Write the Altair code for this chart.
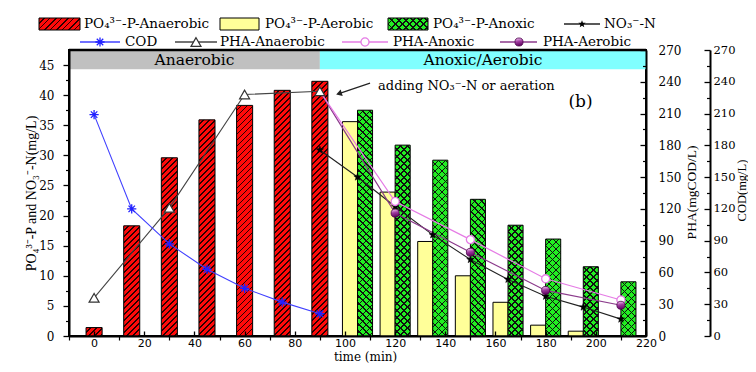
import altair as alt
import numpy as np
import pandas as pd

# ---------------- data ----------------
t_anaerobic = [0, 15, 30, 45, 60, 75, 90]
po4_anaerobic = [1.4, 18.3, 29.6, 35.9, 38.3, 40.8, 42.3]

t_post = [105, 120, 135, 150, 165, 180, 195, 210]
po4_aerobic = [35.6, 23.9, 15.7, 10.0, 5.6, 1.8, 0.8, 0.0]
po4_anoxic = [37.5, 31.7, 29.2, 22.7, 18.4, 16.1, 11.5, 9.0]

t_no3 = [90, 105, 120, 135, 150, 165, 180, 195, 210]
no3_n = [30.9, 26.4, 21.5, 16.8, 12.7, 9.4, 6.6, 4.8, 2.8]

t_cod = [0, 15, 30, 45, 60, 75, 90]
cod = [209, 120, 87, 63, 45, 32, 21]

t_pha_anaerobic = [0, 30, 60, 90]
pha_anaerobic = [36, 121, 228, 231]

t_pha_post = [90, 120, 150, 180, 210]
pha_anoxic = [231, 127, 91, 54, 34]
pha_aerobic = [231, 116, 79, 43, 29]

phase_labels = ["Anaerobic", "Anoxic/Aerobic"]
phase_start = [-10, 90]
phase_end = [90, 220]

x_ticks = list(range(0, 221, 20))
x_minor = list(range(-10, 220, 20))
left_ticks = list(range(0, 46, 5))
left_minor = [2.5 + 5 * k for k in range(9)]
right_ticks = list(range(0, 271, 30))
right_minor = list(range(15, 270, 30))

annotation_text = "adding NO₃⁻-N or aeration"
panel_label = "(b)"

legend_row1 = ["PO₄³⁻-P-Anaerobic", "PO₄³⁻-P-Aerobic", "PO₄³⁻-P-Anoxic", "NO₃⁻-N"]
legend_row2 = ["COD", "PHA-Anaerobic", "PHA-Anoxic", "PHA-Aerobic"]

# ---------------- layout / style ----------------
W, H = 577, 286
X_DOM = [-10, 220]
YL_DOM = [0, 47.5]
YR_DOM = [0, 270]
PXX = W / (X_DOM[1] - X_DOM[0])
PXYL = H / YL_DOM[1]
RED_HALF = 3.2
PAIR_W = 6.0
BAND_LO = 44.3
COD_OFF = 64

RED = "#FF0a0a"
RED_LINE = "#2a0000"
YELLOW = "#FFFF99"
GREEN = "#22EE22"
SERIF_H = "DejaVu Serif"
SERIF_V = "Liberation Serif"
SANS = "DejaVu Sans"

C_COD = "#4040FF"
C_NO3 = "#222222"
C_PANA = "#444444"
C_PANOX = "#E57BE5"
C_PAER = "#8B3A8B"

ASTERISK = "M-1,0L1,0M0,-1L0,1M-0.7,-0.7L0.7,0.7M-0.7,0.7L0.7,-0.7"


def star_path(r_out=1.0, r_in=0.42):
    pts = []
    for k in range(10):
        r = r_out if k % 2 == 0 else r_in
        a = np.deg2rad(-90 + 36 * k)
        pts.append((r * np.cos(a), r * np.sin(a)))
    return "M" + "L".join(f"{x:.3f},{y:.3f}" for x, y in pts) + "Z"


STAR = star_path()

BALL = {"gradient": "linear", "x1": 0.3, "y1": 0.0001, "x2": 0.5, "y2": 1,
        "stops": [{"offset": 0, "color": "#F4C8F4"},
                  {"offset": 0.45, "color": "#A03CA0"},
                  {"offset": 1, "color": "#5A005A"}]}


def hatch(w, h, bg, fg, period, lw, kind):
    L = w + h
    s = L / (w * w + h * h)
    if kind == "/":
        x1, y1, x2, y2 = 0.0, 0.0, s * w, s * h
    else:
        x1, y1, x2, y2 = 0.0, 1.0, s * w, 1.0 - s * h
    dt = period / L
    lt = lw * np.sqrt(2) / L
    stops = []
    k = 0
    while k * dt < 1:
        a = k * dt
        b = min(a + dt - lt, 1.0)
        c = min(a + dt, 1.0)
        stops += [(a, bg), (b, bg), (b, fg), (c, fg)]
        k += 1
    return {"gradient": "linear", "x1": x1, "y1": y1, "x2": round(x2, 6), "y2": round(y2, 6),
            "stops": [{"offset": round(float(o), 6), "color": col} for o, col in stops]}


def X(field, axis=None):
    return alt.X(field, type="quantitative",
                 scale=alt.Scale(domain=X_DOM, nice=False, zero=False), axis=axis)


def YL(field, axis=None):
    return alt.Y(field, type="quantitative",
                 scale=alt.Scale(domain=YL_DOM, nice=False, zero=False), axis=axis)


def YR(field, axis=None):
    return alt.Y(field, type="quantitative",
                 scale=alt.Scale(domain=YR_DOM, nice=False, zero=False), axis=axis)


one = pd.DataFrame({"d": [0]})
layers = []

# ---------------- phase bands ----------------
band_df = pd.DataFrame({"label": phase_labels, "x0": phase_start, "x1": phase_end})
band_df["y0"] = BAND_LO
band_df["y1"] = YL_DOM[1]
band_df["xc"] = (band_df["x0"] + band_df["x1"]) / 2
band_df["yc"] = (BAND_LO + YL_DOM[1]) / 2
layers.append(
    alt.Chart(band_df).mark_rect().encode(
        x=X("x0"), x2="x1", y=YL("y0"), y2="y1",
        color=alt.Color("label:N", scale=alt.Scale(domain=phase_labels, range=["#C0C0C0", "#80FFFF"]),
                        legend=None)))
layers.append(
    alt.Chart(band_df).mark_text(font=SERIF_H, fontSize=15.5, color="black").encode(
        x=X("xc"), y=YL("yc"), text="label:N"))
layers.append(alt.Chart(one).mark_rule(color="black", strokeWidth=2.5).encode(
    x=alt.value(0), x2=alt.value(W), y=alt.value(0)))

# ---------------- bars ----------------
red_df = pd.DataFrame({"t": t_anaerobic, "v": po4_anaerobic})
red_df["x0"] = red_df["t"] - RED_HALF
red_df["x1"] = red_df["t"] + RED_HALF
red_df["base"] = 0.0
for i in range(len(red_df)):
    g = hatch(2 * RED_HALF * PXX, red_df["v"].iloc[i] * PXYL, RED, RED_LINE, 6.0, 1.3, "/")
    layers.append(alt.Chart(red_df.iloc[[i]]).mark_rect(fill=g, stroke="black", strokeWidth=1).encode(
        x=X("x0"), x2="x1", y=YL("v"), y2="base"))

yel_df = pd.DataFrame({"t": t_post, "v": po4_aerobic})
yel_df = yel_df[yel_df["v"] > 0].copy()
yel_df["x0"] = yel_df["t"] - PAIR_W
yel_df["x1"] = yel_df["t"]
yel_df["base"] = 0.0
layers.append(alt.Chart(yel_df).mark_rect(fill=YELLOW, stroke="black", strokeWidth=1).encode(
    x=X("x0"), x2="x1", y=YL("v"), y2="base"))

grn_df = pd.DataFrame({"t": t_post, "v": po4_anoxic})
grn_df["x0"] = grn_df["t"]
grn_df["x1"] = grn_df["t"] + PAIR_W
grn_df["base"] = 0.0
for i in range(len(grn_df)):
    h = grn_df["v"].iloc[i] * PXYL
    g1 = hatch(PAIR_W * PXX, h, GREEN, "#101010", 7.0, 1.1, "\\")
    g2 = hatch(PAIR_W * PXX, h, "rgba(0,0,0,0)", "#101010", 7.0, 1.1, "/")
    sub = grn_df.iloc[[i]]
    layers.append(alt.Chart(sub).mark_rect(fill=g1, stroke="black", strokeWidth=1).encode(
        x=X("x0"), x2="x1", y=YL("v"), y2="base"))
    layers.append(alt.Chart(sub).mark_rect(fill=g2).encode(
        x=X("x0"), x2="x1", y=YL("v"), y2="base"))

# ---------------- lines ----------------
cod_df = pd.DataFrame({"t": t_cod, "v": cod})
no3_df = pd.DataFrame({"t": t_no3, "v": no3_n})
pana_df = pd.DataFrame({"t": t_pha_anaerobic, "v": pha_anaerobic})
panox_df = pd.DataFrame({"t": t_pha_post, "v": pha_anoxic})
paer_df = pd.DataFrame({"t": t_pha_post, "v": pha_aerobic})

layers.append(alt.Chart(pana_df).mark_line(color=C_PANA, strokeWidth=1.1).encode(x=X("t"), y=YR("v")))
layers.append(alt.Chart(cod_df).mark_line(color=C_COD, strokeWidth=1.1).encode(x=X("t"), y=YR("v")))
layers.append(alt.Chart(no3_df).mark_line(color=C_NO3, strokeWidth=1.1).encode(x=X("t"), y=YL("v")))
layers.append(alt.Chart(paer_df).mark_line(color=C_PAER, strokeWidth=1.2).encode(x=X("t"), y=YR("v")))
layers.append(alt.Chart(panox_df).mark_line(color=C_PANOX, strokeWidth=1.2).encode(x=X("t"), y=YR("v")))

# markers
layers.append(alt.Chart(cod_df).mark_point(shape=ASTERISK, filled=False, stroke="#2020FF", strokeWidth=1.3,
                                           size=85, opacity=1).encode(x=X("t"), y=YR("v")))
layers.append(alt.Chart(no3_df).mark_point(shape=STAR, filled=True, fill="black", stroke="black",
                                           strokeWidth=0.5, size=60, opacity=1).encode(x=X("t"), y=YL("v")))
layers.append(alt.Chart(panox_df[panox_df["t"] > 90]).mark_point(
    shape="circle", filled=True, fill="white", stroke=C_PANOX, strokeWidth=1.3, size=65, opacity=1).encode(
    x=X("t"), y=YR("v")))
layers.append(alt.Chart(paer_df[paer_df["t"] > 90]).mark_point(
    shape="circle", filled=True, fill=BALL, stroke="#4a004a", strokeWidth=0.8, size=65, opacity=1).encode(
    x=X("t"), y=YR("v")))
layers.append(alt.Chart(pana_df).mark_point(shape="triangle-up", filled=True, fill="white", stroke="#333333",
                                            strokeWidth=1.2, size=100, opacity=1).encode(x=X("t"), y=YR("v")))

# ---------------- annotation ----------------
ann_df = pd.DataFrame({"x": [110.0], "y": [42.0], "x2": [97.6], "y2": [40.25]})
layers.append(alt.Chart(ann_df).mark_rule(color="#222222", strokeWidth=1.2).encode(
    x=X("x"), x2="x2", y=YL("y"), y2="y2"))
layers.append(alt.Chart(ann_df).mark_point(shape="triangle-up", angle=252, filled=True, fill="#222222",
                                           size=45, opacity=1).encode(x=X("x2"), y=YL("y2")))
txt_df = pd.DataFrame({"x": [113.2], "y": [41.5], "label": [annotation_text]})
layers.append(alt.Chart(txt_df).mark_text(font=SERIF_H, fontSize=13, align="left", baseline="middle",
                                          color="black").encode(x=X("x"), y=YL("y"), text="label:N"))
pl_df = pd.DataFrame({"x": [193.9], "y": [38.8], "label": [panel_label]})
layers.append(alt.Chart(pl_df).mark_text(font=SERIF_H, fontSize=17, align="center", baseline="middle",
                                         color="black").encode(x=X("x"), y=YL("y"), text="label:N"))

# ---------------- legend (manual, two rows above the plot) ----------------
R1, R2 = -26, -8
LEG_FS = 13.5


def leg_text(label, px, py):
    return alt.Chart(one).mark_text(font=SERIF_H, fontSize=LEG_FS, align="left", baseline="middle",
                                    color="black").encode(x=alt.value(px), y=alt.value(py), text=alt.value(label))


def leg_box(fill, px0, px1, py):
    return alt.Chart(one).mark_rect(fill=fill, stroke="black", strokeWidth=1).encode(
        x=alt.value(px0), x2=alt.value(px1), y=alt.value(py - 6), y2=alt.value(py + 6))


def leg_line(color, px0, px1, py):
    return alt.Chart(one).mark_rule(color=color, strokeWidth=1.3).encode(
        x=alt.value(px0), x2=alt.value(px1), y=alt.value(py))


layers.append(leg_box(hatch(41, 12, RED, RED_LINE, 6.0, 1.3, "/"), -30, 11, R1))
layers.append(leg_text(legend_row1[0], 15, R1))
layers.append(leg_box(YELLOW, 151, 190, R1))
layers.append(leg_text(legend_row1[1], 196, R1))
layers.append(leg_box(hatch(40, 12, GREEN, "#101010", 7.0, 1.1, "\\"), 319, 359, R1))
layers.append(alt.Chart(one).mark_rect(fill=hatch(40, 12, "rgba(0,0,0,0)", "#101010", 7.0, 1.1, "/")).encode(
    x=alt.value(319), x2=alt.value(359), y=alt.value(R1 - 6), y2=alt.value(R1 + 6)))
layers.append(leg_text(legend_row1[2], 364, R1))
layers.append(leg_line(C_NO3, 495, 531, R1))
layers.append(alt.Chart(one).mark_point(shape=STAR, filled=True, fill="black", size=60, opacity=1).encode(
    x=alt.value(513), y=alt.value(R1)))
layers.append(leg_text(legend_row1[3], 535, R1))

layers.append(leg_line(C_COD, 11, 51, R2))
layers.append(alt.Chart(one).mark_point(shape=ASTERISK, filled=False, stroke="#2020FF", strokeWidth=1.3,
                                        size=85, opacity=1).encode(x=alt.value(31), y=alt.value(R2)))
layers.append(leg_text(legend_row2[0], 56, R2))
layers.append(leg_line(C_PANA, 106, 148, R2))
layers.append(alt.Chart(one).mark_point(shape="triangle-up", filled=True, fill="white", stroke="#333333",
                                        strokeWidth=1.2, size=100, opacity=1).encode(x=alt.value(127), y=alt.value(R2)))
layers.append(leg_text(legend_row2[1], 151, R2))
layers.append(leg_line(C_PANOX, 273, 319, R2))
layers.append(alt.Chart(one).mark_point(shape="circle", filled=True, fill="white", stroke=C_PANOX,
                                        strokeWidth=1.3, size=65, opacity=1).encode(x=alt.value(296), y=alt.value(R2)))
layers.append(leg_text(legend_row2[2], 324, R2))
layers.append(leg_line(C_PAER, 431, 468, R2))
layers.append(alt.Chart(one).mark_point(shape="circle", filled=True, fill=BALL, stroke="#4a004a",
                                        strokeWidth=0.8, size=65, opacity=1).encode(x=alt.value(450), y=alt.value(R2)))
layers.append(leg_text(legend_row2[3], 474, R2))

# ---------------- axes (carried by invisible layers) ----------------
ax_df = pd.DataFrame({"x": [0.0], "y": [0.0]})
base_ax = dict(grid=False, zindex=1, tickColor="black", domainColor="black", labelColor="black",
               titleColor="black", labelOverlap=False, labelFlush=False)


def axis_layer(xaxis=None, yaxis=None, ydom=YL_DOM):
    return alt.Chart(ax_df).mark_point(opacity=0).encode(
        x=X("x", xaxis),
        y=alt.Y("y", type="quantitative", scale=alt.Scale(domain=ydom, nice=False, zero=False), axis=yaxis))


layers.append(axis_layer(
    xaxis=alt.Axis(orient="bottom", values=x_ticks, ticks=False, tickSize=0, domain=False, labelPadding=1,
                   labelFont=SANS, labelFontSize=11, title="time (min)", titleFont=SERIF_H,
                   titleFontSize=12, titleFontWeight="normal", titleX=296, titleY=27.5,
                   titleBaseline="bottom", titleAlign="center", **base_ax),
    yaxis=alt.Axis(orient="left", values=left_ticks, tickSize=6, tickWidth=1.3, domainWidth=2,
                   labelFont=SERIF_H, labelFontSize=12, labelPadding=9,
                   title="PO₄³⁻-P and NO₃⁻-N(mg/L)", titleFont=SERIF_V, titleFontSize=14,
                   titleFontWeight="normal", titleX=-38, titleY=143, titleAngle=270,
                   titleAlign="center", titleBaseline="middle", **base_ax)))
layers.append(axis_layer(
    xaxis=alt.Axis(orient="top", offset=-H, values=x_ticks, tickSize=5, tickWidth=1.3, labels=False,
                   domainWidth=2, title=None, **base_ax),
    yaxis=alt.Axis(orient="left", values=left_minor, tickSize=3.5, tickWidth=1.2, labels=False,
                   domain=False, title=None, **base_ax)))
layers.append(axis_layer(
    xaxis=alt.Axis(orient="bottom", values=x_minor, tickSize=4, tickWidth=1.2, labels=False,
                   domain=False, title=None, **base_ax),
    yaxis=alt.Axis(orient="left", offset=-W, values=right_ticks, tickSize=6, tickWidth=1.3,
                   labels=False, domainWidth=2, title=None, **base_ax),
    ydom=YR_DOM))
layers.append(axis_layer(
    yaxis=alt.Axis(orient="left", offset=-W, values=right_minor, tickSize=3.5, tickWidth=1.2,
                   labels=False, domain=False, title=None, **base_ax),
    ydom=YR_DOM))
layers.append(axis_layer(
    yaxis=alt.Axis(orient="right", values=right_ticks, ticks=False, tickSize=0, domain=False,
                   labelFont=SERIF_H, labelFontSize=12, labelPadding=12,
                   title="PHA(mgCOD/L)", titleFont=SERIF_V, titleFontSize=13.5,
                   titleFontWeight="normal", titleX=45, titleY=142, titleAngle=270,
                   titleAlign="center", titleBaseline="middle", **base_ax),
    ydom=YR_DOM))
layers.append(axis_layer(
    yaxis=alt.Axis(orient="left", offset=-(W + COD_OFF), values=right_ticks, tickSize=6, tickWidth=1.3,
                   labels=False, domainWidth=2, title=None, **base_ax),
    ydom=YR_DOM))
layers.append(axis_layer(
    yaxis=alt.Axis(orient="left", offset=-(W + COD_OFF), values=right_minor, tickSize=3.5, tickWidth=1.2,
                   labels=False, domain=False, title=None, **base_ax),
    ydom=YR_DOM))
layers.append(axis_layer(
    yaxis=alt.Axis(orient="right", offset=COD_OFF, values=right_ticks, ticks=False, tickSize=0, domain=False,
                   labelFont=SERIF_H, labelFontSize=11.5, labelPadding=3,
                   title="COD(mg/L)", titleFont=SERIF_V, titleFontSize=12.5,
                   titleFontWeight="normal", titleX=31.5, titleY=140, titleAngle=270,
                   titleAlign="center", titleBaseline="middle", **base_ax),
    ydom=YR_DOM))

chart = alt.layer(*layers).resolve_scale(x="independent", y="independent").properties(
    width=W, height=H,
    padding={"left": 61, "top": 42, "right": 102, "bottom": 28},
    autosize=alt.AutoSizeParams(type="none"),
).configure_view(stroke="black", strokeWidth=2).configure_axis(grid=False)

chart.save("out.html", embed_options={"renderer": "svg", "actions": False})
